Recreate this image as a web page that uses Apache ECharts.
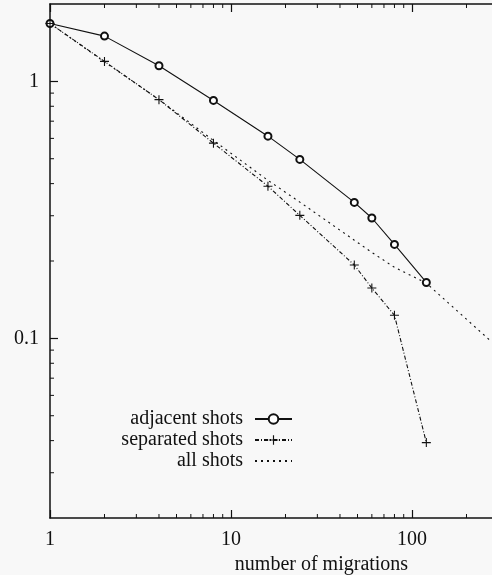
<!DOCTYPE html>
<html>
<head>
<meta charset="utf-8">
<script src="https://cdn.jsdelivr.net/npm/echarts@6/dist/echarts.min.js"></script>
<style>
html,body{margin:0;padding:0;background:#f8f8f8;}
#chart{width:492px;height:575px;}
</style>
</head>
<body>
<div id="chart"></div>
<script>
// x values (number of migrations)
const migrations = [1, 2, 4, 8, 16, 24, 48, 60, 80, 120];
const migrationsAll = [1, 2, 4, 8, 16, 24, 48, 60, 80, 120, 275];
// series values
const adjacentShots = [1.68, 1.50, 1.15, 0.843, 0.612, 0.497, 0.338, 0.294, 0.232, 0.165];
const separatedShots = [1.68, 1.196, 0.849, 0.575, 0.391, 0.301, 0.193, 0.157, 0.123, 0.0393];
const allShots = [1.68, 1.19, 0.85, 0.589, 0.412, 0.339, 0.241, 0.216, 0.189, 0.164, 0.097];
// axis ranges and minor tick positions
const xRange = [1, 1000];
const yRange = [0.02, 2];
const minorXTicks = [2,3,4,5,6,7,8,9,20,30,40,50,60,70,80,90,200,300,400,500,600,700,800,900];
const minorYTicks = [0.03,0.04,0.05,0.06,0.07,0.08,0.09,0.2,0.3,0.4,0.5,0.6,0.7,0.8,0.9];
const seriesNames = ['adjacent shots', 'separated shots', 'all shots'];

const FONT = '"Liberation Serif", "DejaVu Serif", serif';
const INK = '#111';
const plusPath = 'path://M4.4,0h1.2v10h-1.2zM0,4.4h10v1.2h-10z';

function zip(xs, ys) { return xs.map((x, i) => [x, ys[i]]); }

const chart = echarts.init(document.getElementById('chart'), null, {renderer: 'canvas'});

const option = {
  animation: false,
  backgroundColor: '#f8f8f8',
  grid: {left: 50, right: -101, top: 4, bottom: 57, outerBoundsMode: 'none', containLabel: false},
  legend: {
    data: [
      {name: seriesNames[0]},
      {name: seriesNames[1]},
      {name: seriesNames[2], itemStyle: {opacity: 0}}
    ],
    orient: 'vertical',
    align: 'right',
    right: 194,
    top: 404,
    itemWidth: 37,
    itemHeight: 12,
    itemGap: 1,
    textStyle: {fontFamily: FONT, fontSize: 20, color: INK, padding: [0, 7, 0, 0]},
    selectedMode: false
  },
  xAxis: [{
    type: 'log', logBase: 10, min: xRange[0], max: xRange[1],
    position: 'bottom',
    name: 'number of migrations', nameLocation: 'middle', nameGap: 28,
    nameTextStyle: {fontFamily: FONT, fontSize: 20, color: INK},
    axisLine: {lineStyle: {color: INK, width: 1.5}},
    axisTick: {inside: true, length: 8, lineStyle: {color: INK, width: 1.2}},
    axisLabel: {fontFamily: FONT, fontSize: 20, color: INK, margin: 12, showMaxLabel: false},
    splitLine: {show: false}
  }, {
    type: 'log', logBase: 10, min: xRange[0], max: xRange[1],
    position: 'top',
    axisLine: {lineStyle: {color: INK, width: 1.5}},
    axisTick: {inside: true, length: 8, lineStyle: {color: INK, width: 1.2}},
    axisLabel: {show: false},
    splitLine: {show: false}
  }],
  yAxis: {
    type: 'log', logBase: 10, min: yRange[0], max: yRange[1],
    axisLine: {lineStyle: {color: INK, width: 1.5}},
    axisTick: {inside: true, length: 8, lineStyle: {color: INK, width: 1.2}},
    axisLabel: {fontFamily: FONT, fontSize: 20, color: INK, margin: 11, showMinLabel: false, showMaxLabel: false},
    splitLine: {show: false}
  },
  series: [
    {
      name: seriesNames[0], type: 'line', xAxisIndex: 0,
      data: zip(migrations, adjacentShots),
      symbol: 'emptyCircle', symbolSize: 7,
      lineStyle: {color: INK, width: 1.1, type: 'solid'},
      itemStyle: {color: INK, borderColor: INK, borderWidth: 1}
    },
    {
      name: seriesNames[1], type: 'line', xAxisIndex: 0,
      data: zip(migrations, separatedShots),
      symbol: plusPath, symbolSize: 9,
      lineStyle: {color: INK, width: 1.1, type: [4, 2, 1, 2]},
      itemStyle: {color: INK}
    },
    {
      name: seriesNames[2], type: 'line', xAxisIndex: 0,
      data: zip(migrationsAll, allShots),
      showSymbol: false, symbol: 'none',
      lineStyle: {color: INK, width: 1.1, type: [2, 4]},
      itemStyle: {color: INK}
    },
    {
      name: 'minorX', type: 'custom', xAxisIndex: 0, silent: true, clip: false,
      data: minorXTicks.map(v => [v, yRange[0]]),
      renderItem: function (params, api) {
        const b = api.coord([api.value(0), yRange[0]]);
        const t = api.coord([api.value(0), yRange[1]]);
        const st = {stroke: INK, lineWidth: 1};
        return {type: 'group', children: [
          {type: 'line', shape: {x1: b[0], y1: b[1], x2: b[0], y2: b[1] - 4}, style: st},
          {type: 'line', shape: {x1: t[0], y1: t[1], x2: t[0], y2: t[1] + 4}, style: st}
        ]};
      }
    },
    {
      name: 'minorY', type: 'custom', xAxisIndex: 0, silent: true, clip: false,
      data: minorYTicks.map(v => [xRange[0], v]),
      renderItem: function (params, api) {
        const p = api.coord([xRange[0], api.value(1)]);
        return {type: 'line', shape: {x1: p[0], y1: p[1], x2: p[0] + 4, y2: p[1]}, style: {stroke: INK, lineWidth: 1}};
      }
    }
  ]
};
chart.setOption(option);
</script>
</body>
</html>
